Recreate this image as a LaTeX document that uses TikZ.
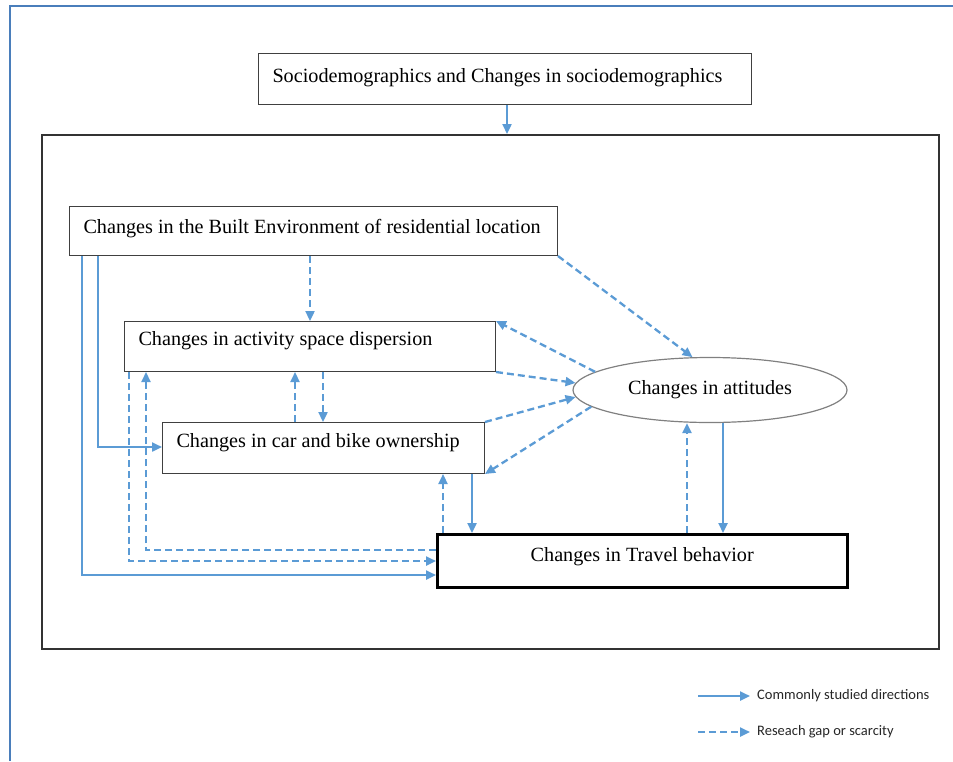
\documentclass[tikz,border=0pt]{standalone}
\usepackage{fontspec}
\setmainfont{Liberation Serif}
\newfontfamily\legendfont{Carlito}
\usetikzlibrary{arrows.meta,shapes.geometric}
\definecolor{arrowblue}{HTML}{5B9BD5}
\definecolor{frameblue}{HTML}{4A7EBB}
\definecolor{boxgray}{HTML}{404040}
\definecolor{ellgray}{HTML}{808080}
\tikzset{
  box/.style={draw=boxgray, line width=1pt, anchor=north west, inner xsep=14pt, inner ysep=0pt, align=left, font=\fontsize{20.2}{24}\selectfont, execute at begin node={\spaceskip=0pt\xspaceskip=0pt\relax}},
  link/.style={draw=arrowblue, line width=2.3pt, -{Triangle[length=10pt,width=9pt]}},
  gap/.style={link, dash pattern=on 7pt off 4pt},
  legendtext/.style={anchor=west, inner sep=0pt, font=\legendfont\fontsize{14.5}{17}\selectfont, text=black!85},
}
\begin{document}
\begin{tikzpicture}[x=1pt,y=-1pt]
\useasboundingbox (0,0) rectangle (953,761);
% outer frame
\draw[frameblue, line width=2pt] (10,761) -- (10,6) -- (953,6);

% nodes
\node[draw=black!80, line width=2pt, anchor=north west, minimum width=897pt, minimum height=514pt, inner sep=0pt] (big) at (41,134) {};
\node[box, text width=465pt, text height=29pt, text depth=22pt] (socio) at (258,53) {Sociodemographics and Changes in sociodemographics};
\node[box, text width=460pt, text height=27pt, text depth=22pt] (be) at (69,206) {Changes in the Built Environment of residential location};
\node[box, text width=343pt, text height=24pt, text depth=26pt] (act) at (124,321) {Changes in activity space dispersion};
\node[box, text width=294pt, text height=25pt, text depth=26pt] (car) at (162,422) {Changes in car and bike ownership};
\node[draw=black, line width=2.5pt, anchor=north west, inner sep=0pt, minimum width=410pt, text height=27pt, text depth=26pt, font=\fontsize{20.2}{24}\selectfont] (tb) at (436,533) {Changes in Travel behavior};
\node[ellipse, draw=ellgray, line width=1.2pt, minimum width=274pt, minimum height=65pt, inner sep=0pt, font=\fontsize{20.2}{24}\selectfont] (att) at (710,390) {Changes in attitudes};

% helper columns and rows
\coordinate (colA) at (82,0);
\coordinate (colB) at (98,0);
\coordinate (colC) at (129,0);
\coordinate (colD) at (146,0);
\coordinate (colE) at (295,0);
\coordinate (colG) at (310,0);
\coordinate (colF) at (323,0);
\coordinate (colH) at (443,0);
\coordinate (colI) at (472,0);
\coordinate (colL) at (507,0);
\coordinate (colJ) at (687,0);
\coordinate (colK) at (723,0);
\coordinate (rowCar) at (0,447);
\coordinate (rowT3) at (0,550);
\coordinate (rowT2) at (0,561);
\coordinate (rowT1) at (0,575);

% connectors
\draw[link] (colL |- socio.south) -- (colL |- big.north);
\draw[gap] (colG |- be.south) -- (colG |- act.north);
\draw[gap] (be.south east) -- (att.118.6);
\draw[gap] (att.171) -- (act.north east);
\draw[gap] (act.south east) -- (att.177);
\draw[gap] (car.north east) -- (att.183);
\draw[gap] (att.188) -- (car.south east);
\draw[gap] (colE |- car.north) -- (colE |- act.south);
\draw[gap] (colF |- act.south) -- (colF |- car.north);
\draw[link] (colA |- be.south) -- (colA |- rowT1) -- (rowT1 -| tb.west);
\draw[link] (colB |- be.south) -- (colB |- rowCar) -- (rowCar -| car.west);
\draw[gap] (colC |- act.south) -- (colC |- rowT2) -- (rowT2 -| tb.west);
\draw[gap] (rowT3 -| tb.west) -- (colD |- rowT3) -- (colD |- act.south);
\draw[gap] (colH |- tb.north) -- (colH |- car.south);
\draw[link] (colI |- car.south) -- (colI |- tb.north);
\draw[gap] (colJ |- tb.north) -- (colJ |- att.south);
\draw[link] (colK |- att.south) -- (colK |- tb.north);

% legend
\coordinate (l1a) at (698,696);
\coordinate (l1b) at (750,696);
\coordinate (l2a) at (698,732);
\coordinate (l2b) at (750,732);
\draw[link] (l1a) -- (l1b);
\draw[gap] (l2a) -- (l2b);
\node[legendtext] (leg1) at (757,696) {Commonly studied directions};
\node[legendtext] (leg2) at (757,732) {Reseach gap or scarcity};
\end{tikzpicture}
\end{document}
